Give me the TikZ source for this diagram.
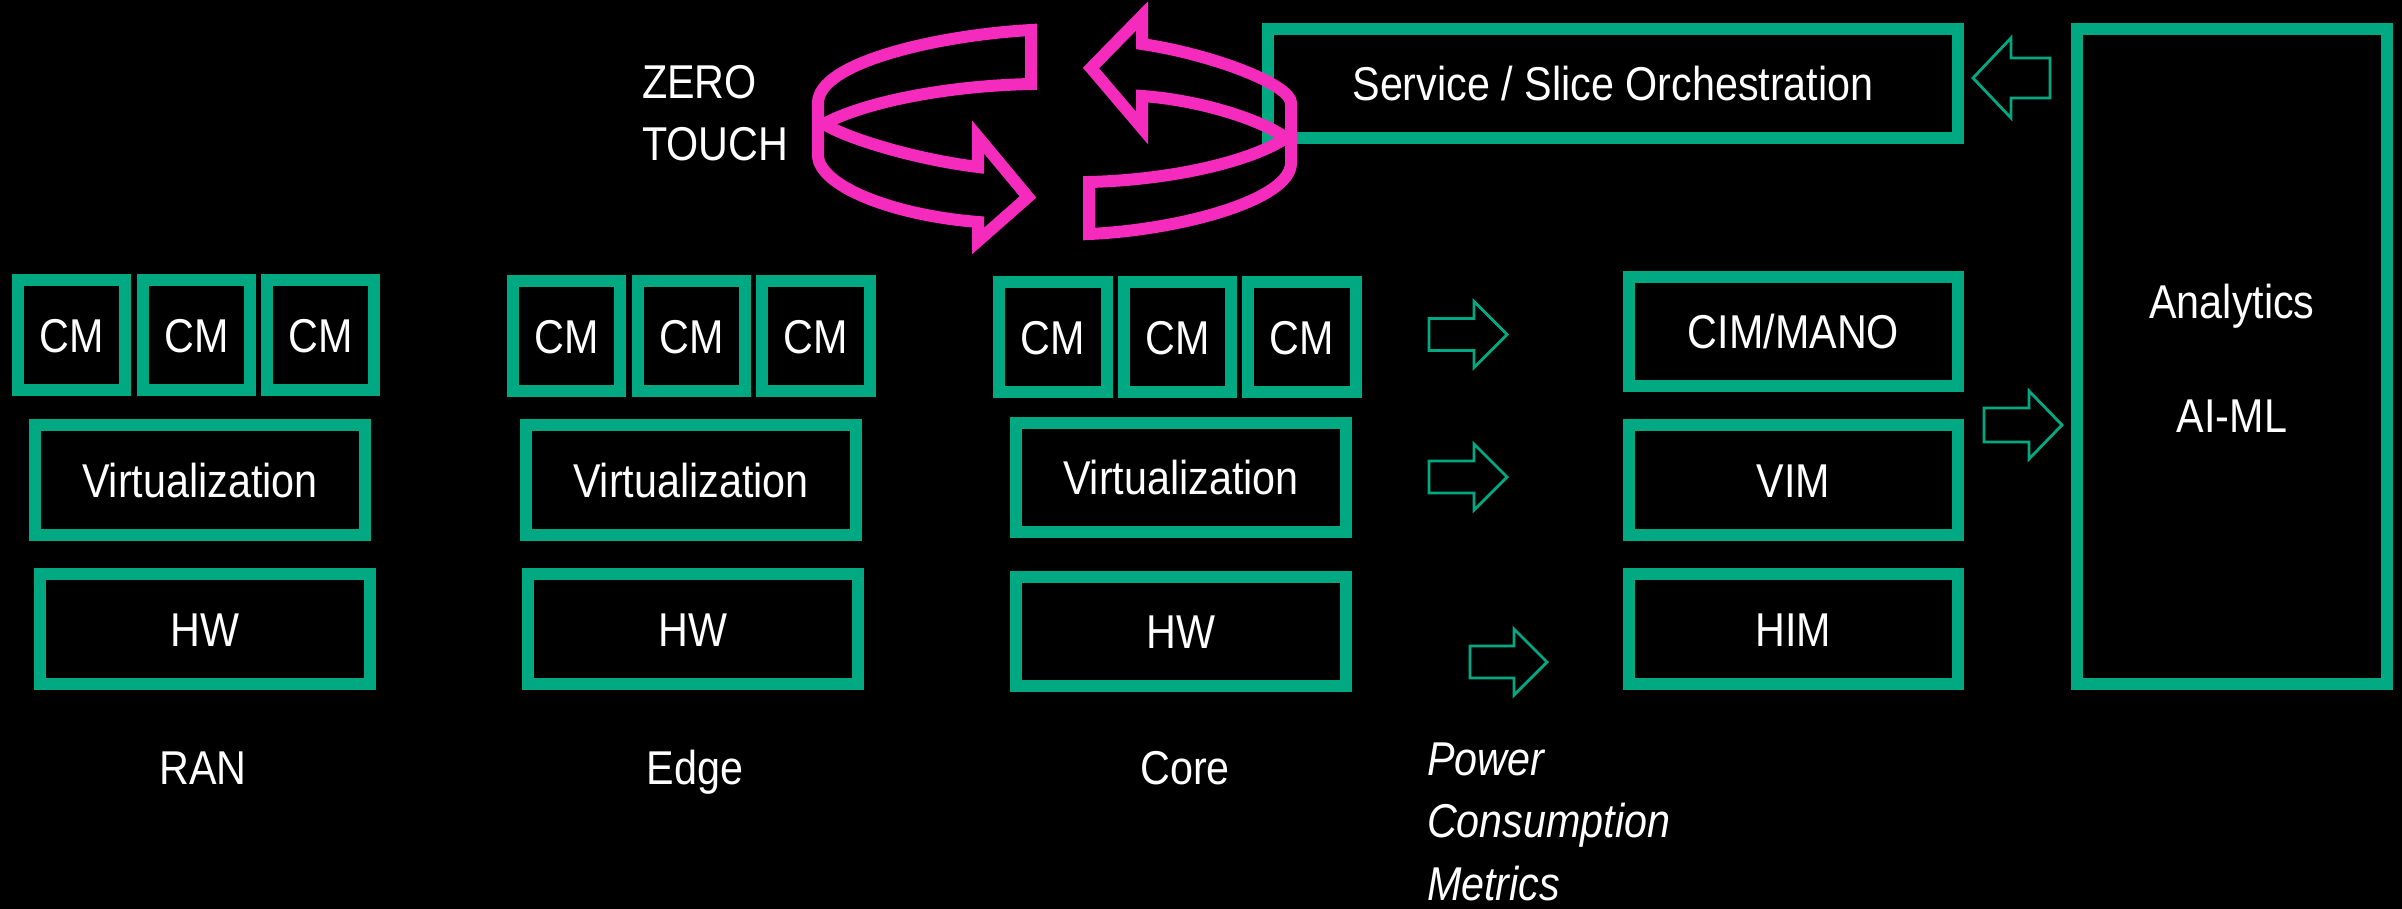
\documentclass[tikz,border=0pt]{standalone}
\usepackage{fontspec}
\setmainfont{Liberation Sans}[FakeStretch=0.87]
\definecolor{hpegreen}{HTML}{01A982}
\definecolor{zpink}{HTML}{F52BBE}
\newcommand\mainsz{\fontsize{13.5pt}{17.7pt}\selectfont}
\tikzset{
  gbox/.style={draw=hpegreen, line width=3.414pt, inner sep=0pt, outer sep=0pt,
    text=white, font=\mainsz, text height=9.67pt, text depth=0pt},
  txt/.style={text=white, font=\mainsz, inner sep=0pt, outer sep=0pt},
  harrow/.style={draw=hpegreen, line width=0.8pt, line join=miter, miter limit=10},
  pinkline/.style={draw=zpink, line width=3.414pt, line join=miter, miter limit=10}
}
% #1 name, #2 x1, #3 y1, #4 x2, #5 y2 (outer edges, px), #6 text
\newcommand\gbox[6]{\node[gbox, minimum width={(#4-#2-12)*0.01cm},
  minimum height={(#5-#3-12)*0.01cm}] (#1) at ({(#2+#4)/2},{(#3+#5)/2}) {#6};}
% #1 x tail, #2 x head base, #3 x tip, #4 y axis, #5 shaft half, #6 head half
\newcommand\hollowarrow[6]{\draw[harrow] (#1,{#4-#5}) -- (#2,{#4-#5}) -- (#2,{#4-#6})
  -- (#3,#4) -- (#2,{#4+#6}) -- (#2,{#4+#5}) -- (#1,{#4+#5}) -- cycle;}
\begin{document}
\begin{tikzpicture}[x=0.01cm, y=-0.01cm]
\useasboundingbox (0,0) rectangle (2402,909);
\fill[black] (0,0) rectangle (2402,909);

% RAN
\gbox{rancma}{12}{274}{131}{396}{CM}
\gbox{rancmb}{137}{274}{256}{396}{CM}
\gbox{rancmc}{261}{274}{380}{396}{CM}
\gbox{ranvirt}{29}{419}{371}{541}{Virtualization}
\gbox{ranhw}{34}{568}{376}{690}{HW}
\node[txt, anchor=base] (ranlbl) at (203,784) {RAN};

% Edge
\gbox{edgecma}{507}{275}{626}{397}{CM}
\gbox{edgecmb}{632}{275}{751}{397}{CM}
\gbox{edgecmc}{756}{275}{876}{397}{CM}
\gbox{edgevirt}{520}{419}{862}{541}{Virtualization}
\gbox{edgehw}{522}{568}{864}{690}{HW}
\node[txt, anchor=base] (edgelbl) at (695,784) {Edge};

% Core
\gbox{corecma}{993}{276}{1113}{398}{CM}
\gbox{corecmb}{1118}{276}{1237}{398}{CM}
\gbox{corecmc}{1242}{276}{1362}{398}{CM}
\gbox{corevirt}{1010}{417}{1352}{538}{Virtualization}
\gbox{corehw}{1010}{571}{1352}{692}{HW}
\node[txt, anchor=base] (corelbl) at (1185,784) {Core};

% Management column
\gbox{cim}{1623}{271}{1964}{392}{CIM/MANO}
\gbox{vim}{1623}{419}{1964}{541}{VIM}
\gbox{him}{1623}{568}{1964}{690}{HIM}

% Orchestration and analytics
\gbox{orch}{1262}{23}{1964}{144}{Service / Slice Orchestration}
\gbox{analytics}{2071}{23}{2393}{690}{}
\node[txt, anchor=base] (anl) at (2232,318) {Analytics};
\node[txt, anchor=base] (aiml) at (2232,432) {AI-ML};

% hollow arrows
\hollowarrow{1429}{1474}{1507}{334.5}{16}{33}
\hollowarrow{1429}{1474}{1507}{477}{16}{33}
\hollowarrow{1470}{1514}{1547}{662}{16}{33}
\hollowarrow{1984}{2029}{2062}{425}{17}{34}
\hollowarrow{2050}{2011}{1973}{78}{20}{40}

% texts
\node[txt, anchor=north west, align=left] (zt) at (642,65) {ZERO\\TOUCH};
\node[txt, anchor=north west, align=left, font=\mainsz\itshape] (pcm) at (1427,743)
  {Power\\Consumption\\Metrics};

% zero-touch cycle arrows
\draw[pinkline] (1031,30) .. controls (940,35) and (818,62) .. (818,103)
  -- (818,155) .. controls (818,185) and (890,215) .. (978,222)
  -- (978,241) -- (1028,197) -- (978,137) -- (978,167)
  .. controls (920,160) and (850,140) .. (824,124)
  .. controls (860,104) and (940,86) .. (1031,84) -- cycle;
\draw[pinkline] (1091,68) -- (1142,16) -- (1142,44)
  .. controls (1215,55) and (1291,85) .. (1291,103)
  -- (1291,163) .. controls (1291,200) and (1180,230) .. (1089,234)
  -- (1089,182) .. controls (1170,180) and (1250,162) .. (1286,138)
  .. controls (1262,120) and (1200,100) .. (1142,96)
  -- (1142,128) -- cycle;
\end{tikzpicture}
\end{document}
